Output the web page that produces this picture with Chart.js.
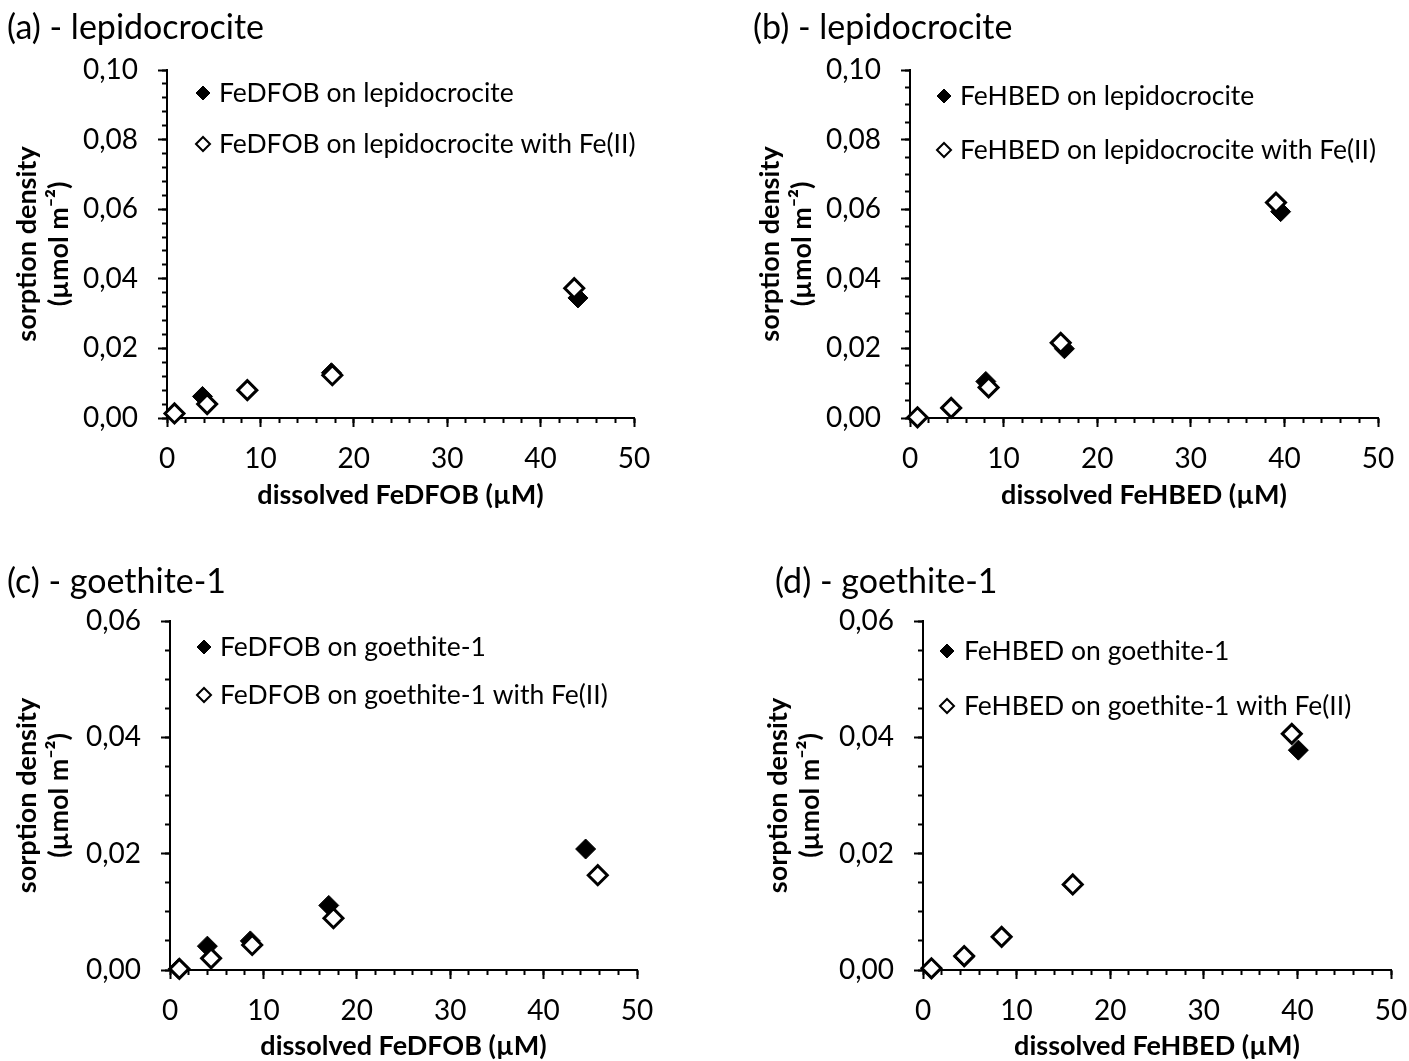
<!DOCTYPE html>
<html>
<head>
<meta charset="utf-8">
<title>FeDFOB / FeHBED sorption</title>
<script src="https://cdn.jsdelivr.net/npm/chart.js@4.4.1/dist/chart.umd.min.js"></script>
<style>
  html, body { margin: 0; padding: 0; background: #fff; }
  #page { position: relative; width: 1409px; height: 1061px; overflow: hidden; }
  canvas { position: absolute; }
</style>
</head>
<body>
<div id="page">
  <canvas id="chartA" width="704" height="530" style="left:0px;top:0px"></canvas>
  <canvas id="chartB" width="740" height="530" style="left:704px;top:0px"></canvas>
  <canvas id="chartC" width="704" height="531" style="left:0px;top:530px"></canvas>
  <canvas id="chartD" width="740" height="531" style="left:704px;top:530px"></canvas>
</div>
<script>
// dissolved complex (µM) vs sorption density (µmol m-2)
const lepDfobX   = [0.8, 3.8, 8.6, 17.6, 44.0];
const lepDfobY   = [0.0013, 0.0062, 0.0080, 0.0130, 0.0345];
const lepDfobFeX = [0.8, 4.3, 8.6, 17.7, 43.6];
const lepDfobFeY = [0.0013, 0.0040, 0.0080, 0.0123, 0.0373];

const lepHbedX   = [0.8, 4.4, 8.1, 16.5, 39.6];
const lepHbedY   = [0.0003, 0.0028, 0.0105, 0.0199, 0.0593];
const lepHbedFeX = [0.8, 4.4, 8.4, 16.1, 39.1];
const lepHbedFeY = [0.0002, 0.0029, 0.0088, 0.0216, 0.0619];

const goeDfobX   = [0.9, 4.0, 8.6, 17.0, 44.5];
const goeDfobY   = [0.0002, 0.0041, 0.0050, 0.0111, 0.0208];
const goeDfobFeX = [1.0, 4.4, 8.8, 17.5, 45.8];
const goeDfobFeY = [0.0002, 0.0020, 0.0043, 0.0089, 0.0163];

const goeHbedX   = [0.9, 4.4, 8.4, 16.0, 40.1];
const goeHbedY   = [0.0002, 0.0022, 0.0056, 0.0146, 0.0378];
const goeHbedFeX = [0.9, 4.4, 8.4, 16.0, 39.4];
const goeHbedFeY = [0.0003, 0.0024, 0.0057, 0.0147, 0.0406];

// tick values
const xTickValues = [0, 10, 20, 30, 40, 50];
const yTicksLep = [0, 0.02, 0.04, 0.06, 0.08, 0.10];
const yTicksGoe = [0, 0.02, 0.04, 0.06];

const FONT = 'Lato, "Open Sans", sans-serif';

function pts(xs, ys) {
  return xs.map((x, i) => ({ x: x, y: ys[i] }));
}

function comma(v) {
  return v.toFixed(2).replace('.', ',');
}

// evenly spaced minor tick positions
function steps(max, step) {
  const n = Math.round(max / step);
  const out = [];
  for (let i = 0; i <= n; i++) out.push({ value: i * step });
  return out;
}

// legend drawn inside the plot area, top left
function insideLegend(cfg) {
  return {
    id: 'insideLegend',
    afterDatasetsDraw(chart) {
      const { ctx, chartArea } = chart;
      ctx.save();
      ctx.font = cfg.size + 'px ' + FONT;
      ctx.textBaseline = 'middle';
      chart.data.datasets.forEach((ds, i) => {
        const x = chartArea.left + cfg.markerX;
        const y = chartArea.top + cfg.rows[i];
        const r = cfg.radius;
        ctx.beginPath();
        ctx.moveTo(x - r, y);
        ctx.lineTo(x, y - r);
        ctx.lineTo(x + r, y);
        ctx.lineTo(x, y + r);
        ctx.closePath();
        ctx.fillStyle = ds.backgroundColor;
        ctx.fill();
        ctx.strokeStyle = '#000';
        ctx.lineWidth = ds.backgroundColor === '#000' ? 1 : 2;
        ctx.stroke();
        ctx.fillStyle = '#000';
        ctx.fillText(ds.label, chartArea.left + cfg.textX, y);
      });
      ctx.restore();
    }
  };
}

const panels = [
  {
    id: 'chartA', cl: 0, ct: 0, cw: 704, ch: 530,
    area: { l: 167, t: 70, r: 634, b: 418 },
    title: '(a) - lepidocrocite', titleX: 7, titleCY: 28, yTitleCX: 27, xTitleCY: 495,
    xTitle: 'dissolved FeDFOB (µM)',
    yMax: 0.10, yTicks: yTicksLep, yMinor: 0.004,
    series: [
      { label: 'FeDFOB on lepidocrocite', data: pts(lepDfobX, lepDfobY) },
      { label: 'FeDFOB on lepidocrocite with Fe(II)', data: pts(lepDfobFeX, lepDfobFeY) }
    ],
    legend: { markerX: 36, textX: 52, rows: [23, 74] }
  },
  {
    id: 'chartB', cl: 704, ct: 0, cw: 740, ch: 530,
    area: { l: 910, t: 70, r: 1378, b: 418 },
    title: '(b) - lepidocrocite', titleX: 753, titleCY: 28, yTitleCX: 770, xTitleCY: 495,
    xTitle: 'dissolved FeHBED (µM)',
    yMax: 0.10, yTicks: yTicksLep, yMinor: 0.005,
    series: [
      { label: 'FeHBED on lepidocrocite', data: pts(lepHbedX, lepHbedY) },
      { label: 'FeHBED on lepidocrocite with Fe(II)', data: pts(lepHbedFeX, lepHbedFeY) }
    ],
    legend: { markerX: 34, textX: 50, rows: [26, 80] }
  },
  {
    id: 'chartC', cl: 0, ct: 530, cw: 704, ch: 531,
    area: { l: 170, t: 621, r: 637, b: 970 },
    title: '(c) - goethite-1', titleX: 7, titleCY: 582, yTitleCX: 27, xTitleCY: 1046,
    xTitle: 'dissolved FeDFOB (µM)',
    yMax: 0.06, yTicks: yTicksGoe, yMinor: 0.005,
    series: [
      { label: 'FeDFOB on goethite-1', data: pts(goeDfobX, goeDfobY) },
      { label: 'FeDFOB on goethite-1 with Fe(II)', data: pts(goeDfobFeX, goeDfobFeY) }
    ],
    legend: { markerX: 34, textX: 50, rows: [26, 74] }
  },
  {
    id: 'chartD', cl: 704, ct: 530, cw: 740, ch: 531,
    area: { l: 923, t: 621, r: 1391, b: 970 },
    title: '(d) - goethite-1', titleX: 775, titleCY: 582, yTitleCX: 778, xTitleCY: 1046,
    xTitle: 'dissolved FeHBED (µM)',
    yMax: 0.06, yTicks: yTicksGoe, yMinor: 0.005,
    series: [
      { label: 'FeHBED on goethite-1', data: pts(goeHbedX, goeHbedY) },
      { label: 'FeHBED on goethite-1 with Fe(II)', data: pts(goeHbedFeX, goeHbedFeY) }
    ],
    legend: { markerX: 24, textX: 41, rows: [30, 85] }
  }
];

const TITLE_SIZE = 34, TITLE_LH = 1.2;
const TICK_SIZE = 28, TICK_LH = 1.2;
const AXIS_TITLE_SIZE = 27, Y_TITLE_LH = 1.2, X_TITLE_LH = 1.2;
const LEGEND_SIZE = 26.5;
const MAJOR_LEN = 9, MINOR_LEN = 5;

// tick-mark-only axis used for the minor ticks
function minorAxis(pos, max, step) {
  return {
    type: 'linear',
    position: pos,
    weight: 0,
    min: 0,
    max: max,
    afterBuildTicks: (s) => { s.ticks = steps(max, step); },
    afterFit: (s) => { if (pos === 'left') s.width = 0; else s.height = 0; },
    border: { display: false },
    grid: {
      display: true, drawOnChartArea: false, drawTicks: true,
      tickLength: MINOR_LEN, tickWidth: 2, tickColor: '#000'
    },
    ticks: { display: false }
  };
}

function build(p) {
  const l = p.area.l - p.cl, t = p.area.t - p.ct, r = p.area.r - p.cl, b = p.area.b - p.ct;
  const padLeft = p.titleX - p.cl;
  const titleLine = TITLE_SIZE * TITLE_LH;
  const titleCY = p.titleCY - p.ct;
  const xLine = AXIS_TITLE_SIZE * X_TITLE_LH;
  const yLine = AXIS_TITLE_SIZE * Y_TITLE_LH;
  const xScaleBottom = p.xTitleCY - p.ct + xLine / 2;
  const padBottom = p.ch - xScaleBottom;
  const majorGrid = {
    display: true, drawOnChartArea: false, drawTicks: true,
    tickLength: MAJOR_LEN, tickWidth: 2, tickColor: '#000'
  };

  new Chart(document.getElementById(p.id), {
    type: 'scatter',
    data: {
      datasets: [
        {
          label: p.series[0].label,
          data: p.series[0].data,
          pointStyle: 'rectRot',
          pointRadius: 10,
          backgroundColor: '#000',
          borderColor: '#000',
          borderWidth: 1,
          order: 1,
          clip: false
        },
        {
          label: p.series[1].label,
          data: p.series[1].data,
          pointStyle: 'rectRot',
          pointRadius: 9.5,
          backgroundColor: '#fff',
          borderColor: '#000',
          borderWidth: 3,
          order: 0,
          clip: false
        }
      ]
    },
    options: {
      responsive: false,
      animation: false,
      events: [],
      layout: {
        padding: { left: padLeft, top: 0, right: p.cw - r, bottom: padBottom }
      },
      plugins: {
        legend: { display: false },
        tooltip: { enabled: false },
        title: {
          display: true,
          text: p.title,
          align: 'start',
          color: '#000',
          font: { family: FONT, size: TITLE_SIZE, weight: 'normal', lineHeight: TITLE_LH },
          padding: { top: titleCY - titleLine / 2, bottom: t - titleCY - titleLine / 2 }
        }
      },
      scales: {
        x: {
          type: 'linear',
          position: 'bottom',
          weight: 1,
          min: 0,
          max: 50,
          afterBuildTicks: (s) => { s.ticks = xTickValues.map(v => ({ value: v })); },
          afterFit: (s) => { s.height = xScaleBottom - b; },
          grid: majorGrid,
          border: { display: true, color: '#000', width: 2 },
          ticks: {
            color: '#000',
            padding: 459 - 418 - TICK_SIZE * TICK_LH / 2 - MAJOR_LEN,
            font: { family: FONT, size: TICK_SIZE, lineHeight: TICK_LH },
            callback: (v) => String(v)
          },
          title: {
            display: true,
            text: p.xTitle,
            color: '#000',
            font: { family: FONT, size: AXIS_TITLE_SIZE, weight: 'bold', lineHeight: X_TITLE_LH },
            padding: { top: 0, bottom: 0 }
          }
        },
        xMinor: minorAxis('bottom', 50, 2),
        y: {
          type: 'linear',
          position: 'left',
          weight: 1,
          min: 0,
          max: p.yMax,
          afterBuildTicks: (s) => { s.ticks = p.yTicks.map(v => ({ value: v })); },
          afterFit: (s) => { s.width = l - padLeft; },
          grid: majorGrid,
          border: { display: true, color: '#000', width: 2 },
          ticks: {
            color: '#000',
            padding: 29 - MAJOR_LEN,
            font: { family: FONT, size: TICK_SIZE, lineHeight: TICK_LH },
            callback: (v) => comma(v)
          },
          title: {
            display: true,
            text: ['sorption density', '(µmol m⁻²)'],
            color: '#000',
            font: { family: FONT, size: AXIS_TITLE_SIZE, weight: 'bold', lineHeight: Y_TITLE_LH },
            padding: { top: p.yTitleCX - p.cl - padLeft - yLine / 2, bottom: 0 }
          }
        },
        yMinor: minorAxis('left', p.yMax, p.yMinor)
      }
    },
    plugins: [
      insideLegend(Object.assign({ size: LEGEND_SIZE, radius: 7 }, p.legend))
    ]
  });
}

panels.forEach(build);
</script>
</body>
</html>
